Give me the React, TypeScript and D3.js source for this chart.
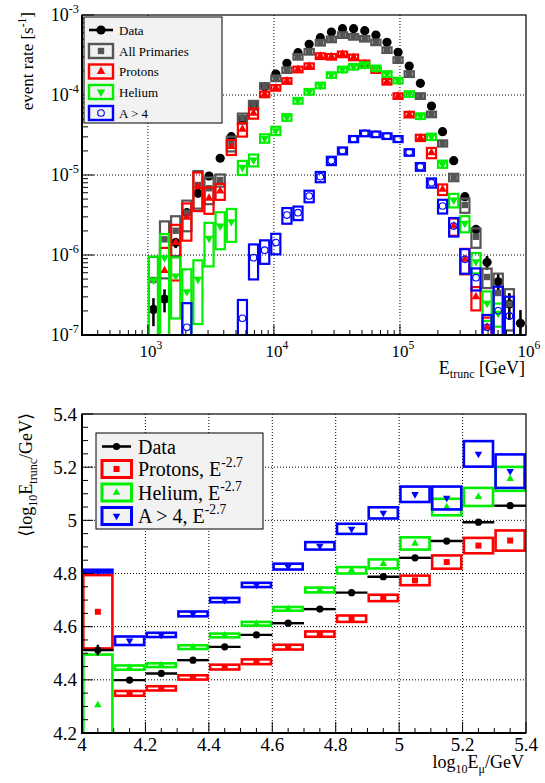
import React from "react";
import * as d3 from "d3";

const FONT = "'Liberation Serif', 'DejaVu Serif', serif";

// ---------- Top panel: event rate vs truncated energy ----------
// log10(E_trunc/GeV) bin edges (34 bins from 10^3 to 10^6 GeV)
const eBinEdgesLog10 = [
  3.0, 3.088, 3.176, 3.265, 3.353, 3.441, 3.529, 3.618, 3.706, 3.794, 3.882, 3.971,
  4.059, 4.147, 4.235, 4.324, 4.412, 4.5, 4.588, 4.676, 4.765, 4.853, 4.941, 5.029,
  5.118, 5.206, 5.294, 5.382, 5.471, 5.559, 5.647, 5.735, 5.824, 5.912, 6.0,
];

const dataRate = [
  2.09e-7, 2.82e-7, 1.43e-6, 3.38e-6, 5.9e-6, 9.71e-6, 1.62e-5, 3.01e-5, 5.0e-5, 7.4e-5,
  1.27e-4, 1.83e-4, 2.49e-4, 3.38e-4, 4.31e-4, 5.2e-4, 6.12e-4, 6.75e-4, 6.75e-4, 6.37e-4,
  5.62e-4, 4.56e-4, 3.42e-4, 2.3e-4, 1.4e-4, 7.28e-5, 3.48e-5, 1.51e-5, 5.36e-6, 2.09e-6,
  8.11e-7, 4.63e-7, 2.44e-7, 1.4e-7,
];
const dataErr = [
  0.8e-7, 0.9e-7, 2.1e-7, 3.2e-7, 4.2e-7, 5.4e-7, 7e-7, 9.5e-7, 1.3e-6, 1.6e-6,
  2e-6, 2.3e-6, 2.7e-6, 3.2e-6, 3.6e-6, 3.9e-6, 4.3e-6, 4.5e-6, 4.5e-6, 4.4e-6,
  4.1e-6, 3.7e-6, 3.2e-6, 2.6e-6, 2.1e-6, 1.5e-6, 1.0e-6, 6.8e-7, 4.0e-7, 2.5e-7,
  1.6e-7, 1.2e-7, 0.9e-7, 0.65e-7,
];

const allRate = [
  4.87e-7, 1.57e-6, 2.01e-6, 3.38e-6, 7.5e-6, 6.82e-6, 8.66e-6, 2.49e-5, 5.12e-5, 7.5e-5,
  1.3e-4, 1.62e-4, 2.05e-4, 3.01e-4, 3.48e-4, 4.51e-4, 4.97e-4, 5.62e-4, 5.35e-4, 5.06e-4,
  4.56e-4, 3.65e-4, 2.74e-4, 1.83e-4, 9.72e-5, 5.74e-5, 2.49e-5, 9.36e-6, 4.22e-6, 1.69e-6,
  5.31e-7, 3.35e-7, 2.44e-7, null,
];
const allErr = [
  4.6e-7, 1.06e-6, 1.04e-6, 1.4e-6, 3.7e-6, 2.5e-6, 1.5e-6, 5.2e-6, 7.4e-6, 9.4e-6,
  1.04e-5, 1.3e-5, 1.6e-5, 2.4e-5, 2.8e-5, 3.6e-5, 4.0e-5, 4.5e-5, 4.3e-5, 4.0e-5,
  3.6e-5, 2.9e-5, 2.2e-5, 1.5e-5, 7.8e-6, 4.6e-6, 2.2e-6, 1.0e-6, 8.5e-7, 4.6e-7,
  1.45e-7, 2.5e-7, 1.3e-7, null,
];

const protonRate = [
  null, 6.37e-7, 1.43e-6, 2.96e-6, 7.14e-6, 5.12e-6, 6.31e-6, 2.26e-5, 3.73e-5, 5.91e-5,
  1.02e-4, 1.23e-4, 1.5e-4, 2.09e-4, 2.3e-4, 3.07e-4, 3.01e-4, 3.23e-4, 2.96e-4, 2.49e-4,
  2.05e-4, 1.47e-4, 9.72e-5, 5.7e-5, 2.92e-5, 1.9e-5, 6.62e-6, 2.3e-6, 8.83e-7, 3.0e-7,
  1.25e-7, null, null, null,
];
const protonErr = [
  null, 5.9e-7, 0.95e-6, 1.45e-6, 3.6e-6, 1.85e-6, 1.42e-6, 4.8e-6, 7.1e-6, 8.5e-6,
  8.2e-6, 9.8e-6, 1.2e-5, 1.7e-5, 1.8e-5, 2.5e-5, 2.4e-5, 2.6e-5, 2.4e-5, 2.0e-5,
  1.6e-5, 1.2e-5, 7.8e-6, 4.6e-6, 2.6e-6, 2.8e-6, 1.0e-6, 5.6e-7, 3.1e-7, 0.97e-7,
  4e-8, null, null, null,
];

const heliumRate = [
  4.87e-7, 9.25e-7, 5.46e-7, 3.48e-7, 4.97e-7, 1.62e-6, 2.3e-6, 2.61e-6, 1.25e-5, 1.54e-5,
  2.88e-5, 3.58e-5, 5.26e-5, 8.49e-5, 1.1e-4, 1.32e-4, 1.78e-4, 2.09e-4, 2.26e-4, 2.37e-4,
  2.16e-4, 1.83e-4, 1.52e-4, 1.03e-4, 5.46e-5, 3.01e-5, 1.37e-5, 4.87e-6, 2.49e-6, 8.24e-7,
  2.5e-7, 1.87e-7, null, null,
];
const heliumErr = [
  4.65e-7, 9e-7, 3.85e-7, 3.14e-7, 3.6e-7, 9e-7, 1.12e-6, 1.15e-6, 2.5e-6, 2.6e-6,
  3.5e-6, 4.3e-6, 5e-6, 7e-6, 8.8e-6, 1.06e-5, 1.4e-5, 1.7e-5, 1.8e-5, 1.9e-5,
  1.7e-5, 1.5e-5, 1.2e-5, 8.2e-6, 4.4e-6, 2.7e-6, 1.4e-6, 9.4e-7, 5.7e-7, 2.35e-7,
  1.0e-7, 0.6e-7, null, null,
];

const heavyRate = [
  null, null, null, 1.25e-7, null, null, null, null, 1.62e-7, 9.25e-7,
  1.15e-6, 1.43e-6, 3.16e-6, 3.38e-6, 5.46e-6, 9.52e-6, 1.51e-5, 2.01e-5, 2.82e-5, 3.32e-5,
  3.23e-5, 3.07e-5, 2.82e-5, 1.92e-5, 1.27e-5, 8.01e-6, 4.1e-6, 2.3e-6, 8.83e-7, 5.2e-7,
  1.25e-7, 2.01e-7, 1.73e-7, null,
];
const heavyErr = [
  null, null, null, 1.25e-7, null, null, null, null, 1.12e-7, 4.3e-7,
  3.75e-7, 4.1e-7, 7e-7, 6.5e-7, 9e-7, 1.4e-6, 1.8e-6, 2e-6, 2.5e-6, 2.7e-6,
  2.6e-6, 2.5e-6, 2.4e-6, 1.8e-6, 1.4e-6, 1.05e-6, 8e-7, 6e-7, 3e-7, 1.6e-7,
  5.3e-8, 2.0e-7, 1.28e-7, null,
];

const topLegendLabels = ["Data", "All Primaries", "Protons", "Helium", "A > 4"];

// ---------- Bottom panel: mean log10 E_trunc vs log10 E_mu ----------
const muBinEdges = [4.0, 4.1, 4.2, 4.3, 4.4, 4.5, 4.6, 4.7, 4.8, 4.9, 5.0, 5.1, 5.2, 5.3, 5.4];
const dataMean = [4.512, 4.399, 4.424, 4.474, 4.524, 4.569, 4.613, 4.666, 4.728, 4.788, 4.859, 4.922, 4.993, 5.055];
const dataMeanErr = [0.02, 0.006, 0.005, 0.004, 0.004, 0.004, 0.004, 0.005, 0.005, 0.006, 0.007, 0.008, 0.01, 0.012];
const protonMean = [4.656, 4.349, 4.368, 4.409, 4.448, 4.468, 4.523, 4.572, 4.63, 4.708, 4.774, 4.843, 4.905, 4.924];
const protonMeanErr = [0.138, 0.009, 0.008, 0.008, 0.009, 0.009, 0.009, 0.01, 0.012, 0.012, 0.018, 0.025, 0.029, 0.038];
const heliumMean = [4.305, 4.446, 4.455, 4.523, 4.567, 4.611, 4.667, 4.738, 4.812, 4.836, 4.913, 5.05, 5.088, 5.156];
const heliumMeanErr = [0.19, 0.008, 0.007, 0.007, 0.007, 0.007, 0.007, 0.009, 0.012, 0.017, 0.023, 0.031, 0.034, 0.045];
const heavyMean = [4.809, 4.547, 4.569, 4.648, 4.7, 4.757, 4.826, 4.904, 4.968, 5.028, 5.098, 5.084, 5.25, 5.185];
const heavyMeanErr = [0.005, 0.016, 0.008, 0.009, 0.008, 0.008, 0.011, 0.014, 0.019, 0.021, 0.029, 0.043, 0.048, 0.063];

const bottomLegendLabels = ["Data", "Protons, E", "Helium, E", "A > 4, E"];
const spectralIndex = "-2.7";

const GRAY = "#555555";
const RED = "#ff0000";
const GREEN = "#00ee00";
const BLUE = "#0000ff";

type Marker = "circle" | "square" | "up" | "down" | "ocircle";

function MarkerShape({ kind, x, y, color, s }: { kind: Marker; x: number; y: number; color: string; s: number }) {
  if (kind === "circle") return <circle cx={x} cy={y} r={s} fill={color} />;
  if (kind === "ocircle") return <circle cx={x} cy={y} r={s} fill="none" stroke={color} strokeWidth={1.1} />;
  if (kind === "square") return <rect x={x - s} y={y - s} width={2 * s} height={2 * s} fill={color} />;
  const p = d3.symbol().type(d3.symbolTriangle).size(s * s * 2.4)()!;
  return <path d={p} transform={`translate(${x},${y}) rotate(${kind === "down" ? 180 : 0})`} fill={color} />;
}

function Sup({ x, y, base, exp, fs, anchor }: { x: number; y: number; base: string; exp: string; fs: number; anchor: string }) {
  return (
    <text x={x} y={y} fontSize={fs} textAnchor={anchor as any} style={{ fontFamily: FONT }}>
      {base}
      <tspan dy={-0.45 * fs} fontSize={fs * 0.68}>{exp}</tspan>
    </text>
  );
}

export default function App() {
  // Top scales
  const tx = d3.scaleLog().domain([300, 1e6]).range([82, 526]);
  const ty = d3.scaleLog().domain([1e-7, 1e-3]).range([335, 15]);
  const tTop = 15, tBot = 335, tL = 82, tR = 526;
  // Bottom scales
  const bx = d3.scaleLinear().domain([4, 5.4]).range([82, 526]);
  const by = d3.scaleLinear().domain([4.2, 5.4]).range([733, 414]);
  const bTop = 414, bBot = 733;

  const xMajor = [1e3, 1e4, 1e5, 1e6];
  const xMinor: number[] = [];
  [2, 3, 4, 5].forEach((d) => {
    for (let k = 2; k <= 9; k++) {
      const v = k * Math.pow(10, d);
      if (v >= 300 && v < 1e6) xMinor.push(v);
    }
  });
  const yMajor = [1e-7, 1e-6, 1e-5, 1e-4, 1e-3];
  const yMinor: number[] = [];
  [-7, -6, -5, -4].forEach((d) => {
    for (let k = 2; k <= 9; k++) yMinor.push(k * Math.pow(10, d));
  });

  const binX0 = (i: number) => tx(Math.pow(10, eBinEdgesLog10[i]));
  const binX1 = (i: number) => tx(Math.pow(10, eBinEdgesLog10[i + 1]));
  const binXc = (i: number) => tx(Math.pow(10, (eBinEdgesLog10[i] + eBinEdgesLog10[i + 1]) / 2));

  const topSeries: { rate: (number | null)[]; err: (number | null)[]; color: string; marker: Marker; ms: number }[] = [
    { rate: allRate, err: allErr, color: GRAY, marker: "square", ms: 3.2 },
    { rate: protonRate, err: protonErr, color: RED, marker: "up", ms: 3.6 },
    { rate: heliumRate, err: heliumErr, color: GREEN, marker: "down", ms: 3.6 },
    { rate: heavyRate, err: heavyErr, color: BLUE, marker: "ocircle", ms: 3.3 },
  ];

  const topBox = (v: number, e: number) => {
    const y0 = ty(v + e);
    const lo = v - e;
    const y1 = lo > 0 ? ty(lo) : tBot + 20;
    return [y0, y1];
  };

  const bottomSeries = [
    { mean: protonMean, err: protonMeanErr, color: RED, marker: "square" as Marker, ms: 3 },
    { mean: heliumMean, err: heliumMeanErr, color: GREEN, marker: "up" as Marker, ms: 3.2 },
    { mean: heavyMean, err: heavyMeanErr, color: BLUE, marker: "down" as Marker, ms: 3.2 },
  ];

  const bMajor = d3.range(0, 7).map((k) => 4.2 + 0.2 * k);
  const bxMajor = d3.range(0, 8).map((k) => 4 + 0.2 * k);
  const byMinor = d3.range(0, 25).map((k) => 4.2 + 0.05 * k);
  const bxMinor = d3.range(0, 29).map((k) => 4 + 0.05 * k);

  const topLegendRows = [30, 51, 71.5, 92, 113];
  const topLegendSeries = [
    null,
    { color: GRAY, marker: "square" as Marker, ms: 3.2 },
    { color: RED, marker: "up" as Marker, ms: 3.6 },
    { color: GREEN, marker: "down" as Marker, ms: 3.6 },
    { color: BLUE, marker: "ocircle" as Marker, ms: 3.3 },
  ];
  const botLegendRows = [446.5, 469, 492.5, 516];

  return (
    <svg width={545} height={783} style={{ position: "absolute", left: 0, top: 0, background: "#fff", fontFamily: FONT }}>
      <defs>
        <clipPath id="clipTop">
          <rect x={tL} y={tTop} width={tR - tL} height={tBot - tTop} />
        </clipPath>
        <clipPath id="clipBot">
          <rect x={82} y={bTop} width={444} height={bBot - bTop} />
        </clipPath>
      </defs>

      {/* ================= TOP PANEL ================= */}
      <g stroke="#000" strokeWidth={1} strokeDasharray="1,2">
        {[1e3, 1e4, 1e5].map((v) => (
          <line key={"gx" + v} x1={tx(v)} x2={tx(v)} y1={tTop} y2={tBot} />
        ))}
        {[1e-6, 1e-5, 1e-4].map((v) => (
          <line key={"gy" + v} x1={tL} x2={tR} y1={ty(v)} y2={ty(v)} />
        ))}
      </g>

      <g clipPath="url(#clipTop)">
        {dataRate.map((v, i) => {
          const e = dataErr[i];
          const x = binXc(i);
          const lo = v - e;
          return (
            <g key={"d" + i}>
              <line x1={x} x2={x} y1={ty(v + e)} y2={lo > 0 ? ty(lo) : tBot + 10} stroke="#000" strokeWidth={2.6} />
              <circle cx={x} cy={ty(v)} r={4.6} fill="#000" />
            </g>
          );
        })}
        {topSeries.map((s, si) => (
          <g key={"s" + si}>
            {s.rate.map((v, i) => {
              const e = s.err[i];
              if (v == null || e == null) return null;
              const [y0, y1] = topBox(v, e);
              const x0 = binX0(i), x1 = binX1(i);
              return (
                <g key={i}>
                  <rect x={x0 + 1} y={y0} width={x1 - x0 - 2} height={y1 - y0} fill="none" stroke={s.color} strokeWidth={2.2} />
                  <MarkerShape kind={s.marker} x={binXc(i)} y={ty(v)} color={s.color} s={s.ms} />
                </g>
              );
            })}
          </g>
        ))}
      </g>

      <g stroke="#000" strokeWidth={1}>
        {xMajor.map((v) => (
          <line key={"xM" + v} x1={tx(v)} x2={tx(v)} y1={tBot} y2={tBot - 10} />
        ))}
        {xMinor.map((v) => (
          <line key={"xm" + v} x1={tx(v)} x2={tx(v)} y1={tBot} y2={tBot - 5} />
        ))}
        {yMajor.map((v) => (
          <line key={"yM" + v} x1={tL} x2={tL + 12} y1={ty(v)} y2={ty(v)} />
        ))}
        {yMinor.map((v) => (
          <line key={"ym" + v} x1={tL} x2={tL + 6} y1={ty(v)} y2={ty(v)} />
        ))}
      </g>
      <rect x={tL} y={tTop} width={tR - tL} height={tBot - tTop} fill="none" stroke="#000" strokeWidth={1.2} />
      <line x1={tL} x2={tL} y1={tTop} y2={tBot + 1} stroke="#000" strokeWidth={2} />
      <line x1={tL - 1} x2={tR} y1={tBot} y2={tBot} stroke="#000" strokeWidth={2} />

      {yMajor.map((v) => (
        <Sup key={"yl" + v} x={79} y={ty(v) + 6} base="10" exp={String(Math.round(Math.log10(v)))} fs={18} anchor="end" />
      ))}
      {xMajor.map((v) => (
        <Sup key={"xl" + v} x={tx(v) + 3} y={357} base="10" exp={String(Math.round(Math.log10(v)))} fs={17} anchor="middle" />
      ))}

      <text x={525} y={374} textAnchor="end" fontSize={18}>
        E<tspan dy={4} fontSize={12}>trunc</tspan>
        <tspan dy={-4}> [GeV]</tspan>
      </text>
      <text transform="translate(33,12) rotate(-90)" textAnchor="end" fontSize={17}>
        event rate [s<tspan dy={-7} fontSize={11.5}>-1</tspan>
        <tspan dy={7}>]</tspan>
      </text>

      <rect x={84} y={17} width={138} height={106} fill="#f2f2f2" stroke="#000" strokeWidth={1} />
      <g>
        <line x1={89} x2={113} y1={topLegendRows[0]} y2={topLegendRows[0]} stroke="#000" strokeWidth={2.6} />
        <circle cx={101} cy={topLegendRows[0]} r={4.6} fill="#000" />
        {topLegendSeries.map((s, k) =>
          s ? (
            <g key={"tl" + k}>
              <rect x={89} y={topLegendRows[k] - 7} width={24} height={14} fill="none" stroke={s.color} strokeWidth={2.4} />
              <MarkerShape kind={s.marker} x={101} y={topLegendRows[k]} color={s.color} s={s.ms} />
            </g>
          ) : null
        )}
        {topLegendLabels.map((t, k) => (
          <text key={"tt" + k} x={119} y={topLegendRows[k] + 4.5} fontSize={13}>
            {t}
          </text>
        ))}
      </g>

      {/* ================= BOTTOM PANEL ================= */}
      <g stroke="#000" strokeWidth={1} strokeDasharray="1,2">
        {bxMajor.slice(1, 7).map((v) => (
          <line key={"bgx" + v} x1={bx(v)} x2={bx(v)} y1={bTop} y2={bBot} />
        ))}
        {bMajor.slice(1, 6).map((v) => (
          <line key={"bgy" + v} x1={82} x2={526} y1={by(v)} y2={by(v)} />
        ))}
      </g>

      <g clipPath="url(#clipBot)">
        {bottomSeries.map((s, si) => (
          <g key={"bs" + si}>
            {s.mean.map((m, i) => {
              const e = s.err[i];
              const x0 = bx(muBinEdges[i]), x1 = bx(muBinEdges[i + 1]);
              const y0 = by(m + e), y1 = by(m - e);
              return (
                <g key={i}>
                  <rect x={x0 + 1.3} y={y0} width={x1 - x0 - 2.6} height={y1 - y0} fill="none" stroke={s.color} strokeWidth={2.6} />
                  <MarkerShape kind={s.marker} x={(x0 + x1) / 2} y={by(m)} color={s.color} s={s.ms} />
                </g>
              );
            })}
          </g>
        ))}
        {dataMean.map((m, i) => {
          const x0 = bx(muBinEdges[i]), x1 = bx(muBinEdges[i + 1]);
          const xc = (x0 + x1) / 2;
          const e = dataMeanErr[i];
          return (
            <g key={"bd" + i}>
              <line x1={x0} x2={x1} y1={by(m)} y2={by(m)} stroke="#000" strokeWidth={2.4} />
              <line x1={xc} x2={xc} y1={by(m + e)} y2={by(m - e)} stroke="#000" strokeWidth={2.4} />
              <circle cx={xc} cy={by(m)} r={3.6} fill="#000" />
            </g>
          );
        })}
      </g>

      <g stroke="#000" strokeWidth={1}>
        {bxMinor.map((v, k) => (
          <line key={"bxt" + k} x1={bx(v)} x2={bx(v)} y1={bBot} y2={bBot - (k % 4 === 0 ? 11 : 5)} />
        ))}
        {byMinor.map((v, k) => (
          <line key={"byt" + k} x1={82} x2={82 + (k % 4 === 0 ? 11 : 6)} y1={by(v)} y2={by(v)} />
        ))}
      </g>
      <rect x={82} y={bTop} width={444} height={bBot - bTop} fill="none" stroke="#000" strokeWidth={1.2} />
      <line x1={82} x2={82} y1={bTop} y2={bBot + 1} stroke="#000" strokeWidth={2} />
      <line x1={81} x2={526} y1={bBot} y2={bBot} stroke="#000" strokeWidth={2} />

      {bMajor.map((v) => (
        <text key={"byl" + v} x={77} y={by(v) + 6.5} textAnchor="end" fontSize={19}>
          {d3.format("~g")(+v.toFixed(1))}
        </text>
      ))}
      {bxMajor.map((v) => (
        <text key={"bxl" + v} x={bx(v)} y={751} textAnchor="middle" fontSize={19}>
          {d3.format("~g")(+v.toFixed(1))}
        </text>
      ))}

      <text x={524} y={768} textAnchor="end" fontSize={18}>
        log<tspan dy={5} fontSize={12}>10</tspan>
        <tspan dy={-5}>E</tspan>
        <tspan dy={5} fontSize={12}>μ</tspan>
        <tspan dy={-5}>/GeV</tspan>
      </text>
      <text transform="translate(32,413) rotate(-90)" textAnchor="end" fontSize={18}>
        ⟨log<tspan dy={5} fontSize={12}>10</tspan>
        <tspan dy={-5}>E</tspan>
        <tspan dy={5} fontSize={12}>trunc</tspan>
        <tspan dy={-5}>/GeV⟩</tspan>
      </text>

      <rect x={96} y={433} width={167} height={96} fill="#f2f2f2" stroke="#000" strokeWidth={1} />
      <line x1={102} x2={131} y1={botLegendRows[0]} y2={botLegendRows[0]} stroke="#000" strokeWidth={2.6} />
      <circle cx={116.5} cy={botLegendRows[0]} r={3.6} fill="#000" />
      {bottomSeries.map((s, k) => (
        <g key={"bl" + k}>
          <rect x={102} y={botLegendRows[k + 1] - 8.5} width={29.5} height={17} fill="none" stroke={s.color} strokeWidth={3} />
          <MarkerShape kind={s.marker} x={116.5} y={botLegendRows[k + 1]} color={s.color} s={s.ms} />
        </g>
      ))}
      {bottomLegendLabels.map((t, k) =>
        k === 0 ? (
          <text key={"blt" + k} x={138} y={botLegendRows[k] + 7} fontSize={20}>
            {t}
          </text>
        ) : (
          <Sup key={"blt" + k} x={138} y={botLegendRows[k] + 7} base={t} exp={spectralIndex} fs={20} anchor="start" />
        )
      )}
    </svg>
  );
}
